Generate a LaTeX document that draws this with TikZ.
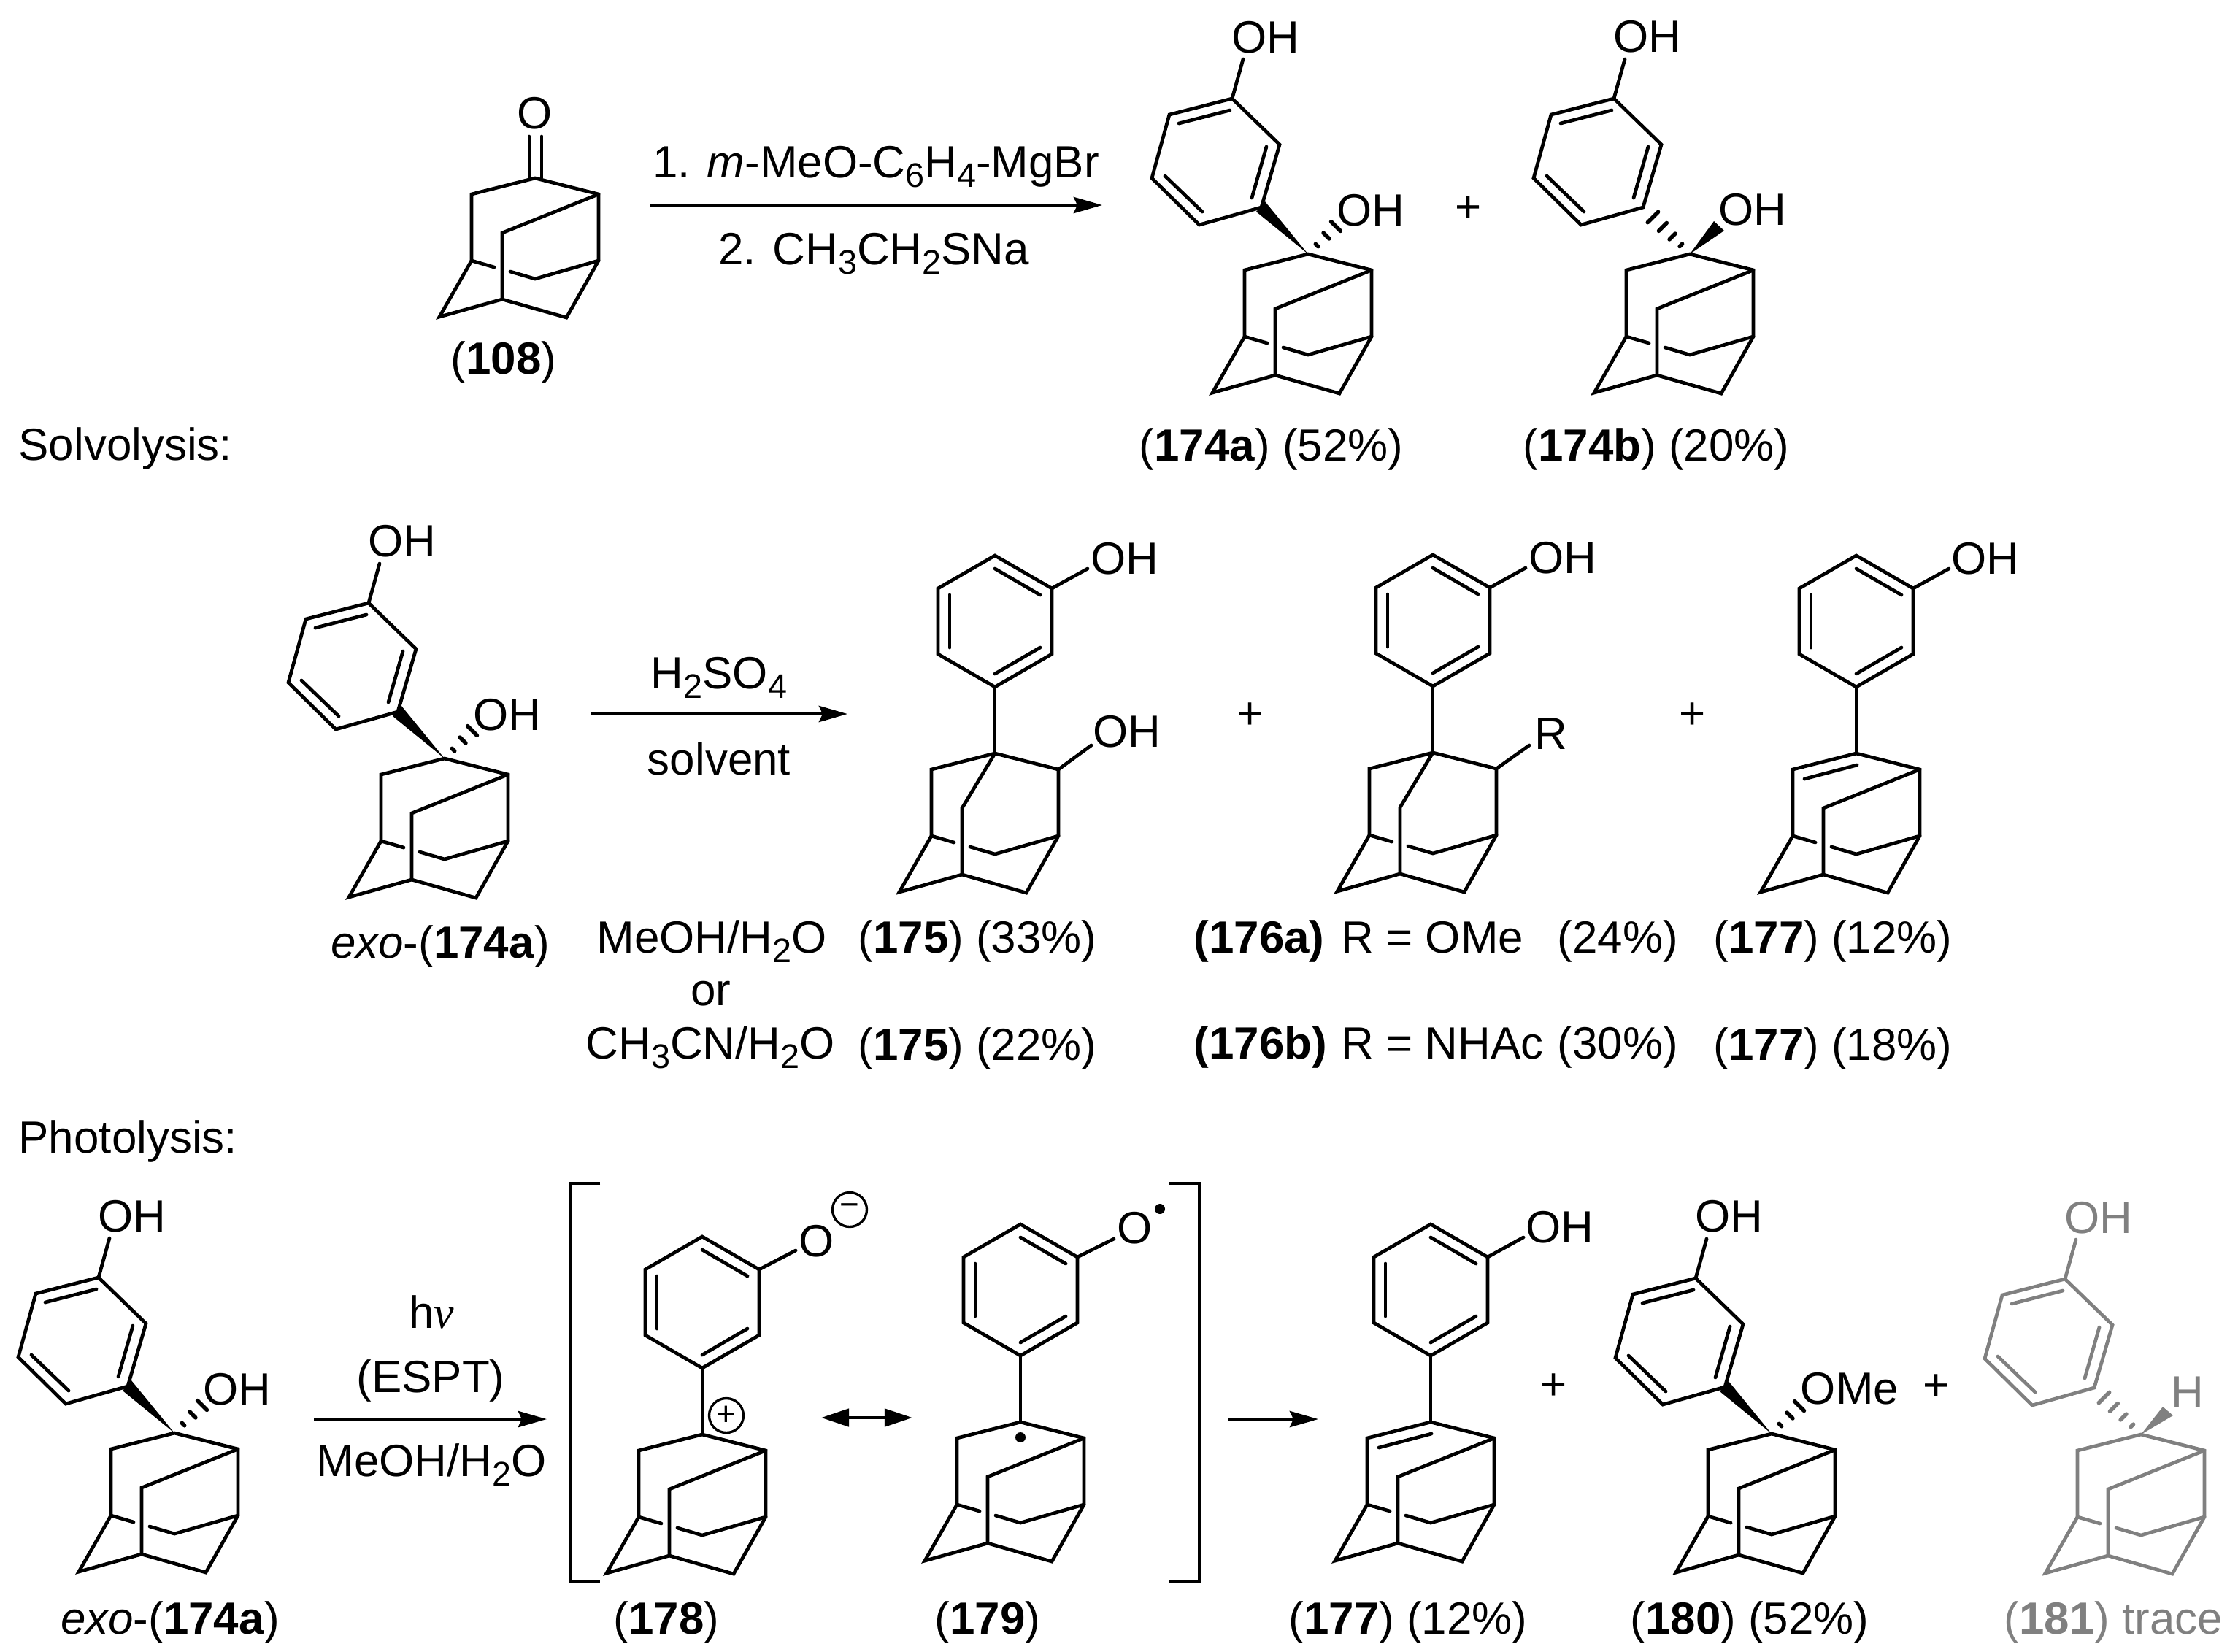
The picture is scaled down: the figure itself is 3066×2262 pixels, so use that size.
\documentclass[tikz,border=0pt]{standalone}
\usepackage{fontspec}
\setmainfont{Liberation Sans}
\newfontfamily\nufont{Liberation Serif}
\usetikzlibrary{calc, arrows.meta}

\definecolor{tracegrey}{HTML}{808080}
\newcommand{\subs}[1]{\raisebox{-3.8pt}{\fontsize{13.3}{13}\selectfont #1}}

% hashed bond: start, end, list of position/half width
\newcommand{\hashed}[3]{%
  \foreach \t/\w in {#3} {
    \draw[hash] ($(#1)!\t!(#2)!\w pt!90:(#2)$) -- ($(#1)!\t!(#2)!-\w pt!90:(#2)$);
  }%
}

\tikzset{
  bond/.style={line width=1.35pt, line cap=round, line join=miter},
  hash/.style={line width=1.55pt, line cap=round},
  rxn/.style={line width=1.35pt, -{Stealth[length=0.39cm, width=0.22cm, inset=0.05cm]}},
  reso/.style={line width=1.35pt, {Triangle[length=0.38cm, width=0.24cm]}-{Triangle[length=0.38cm, width=0.24cm]}},
  lbl/.style={font=\fontsize{17.6}{20}\selectfont, inner sep=0pt, anchor=base west},
  lblc/.style={lbl, anchor=base},
  atom/.style={font=\fontsize{17.6}{20}\selectfont, inner sep=0pt},
  charge/.style={circle, draw, line width=0.95pt, minimum size=0.47cm, inner sep=0pt, font=\fontsize{13}{13}\selectfont},
  % adamantane cage, origin at its top carbon; #1 is the vertex the rear bridge goes to
  pics/cage/.style={code={
    \coordinate (-top) at (0,0);
    \coordinate (-lt) at (-87,22);
    \coordinate (-rt) at (87,22);
    \coordinate (-rear) at (-45,75);
    \coordinate (-lm) at (-87,113);
    \coordinate (-rm) at (87,113);
    \coordinate (-bc) at (-45,166);
    \coordinate (-bl) at (-131,190);
    \coordinate (-br) at (43,191);
    \coordinate (-mid) at (0,138);
    \draw[bond] (-rm) -- (-rt) -- (-top) -- (-lt) -- (-lm) -- (-bl) -- (-bc) -- (-br) -- cycle;
    \draw[bond] (-#1) -- (-rear) -- (-bc);
    \draw[bond] (-lm) -- (-56,122);
    \draw[bond] (-34,128) -- (-mid) -- (-rm);
  }},
  % phenol ring standing on the top carbon
  pics/upring/.style={code={
    \coordinate (-ru) at (78,-226);
    \draw[bond] (0,0) -- (0,-91);
    \draw[bond] (0,-91) -- (78,-136) -- (-ru) -- (0,-271) -- (-78,-226) -- (-78,-136) -- cycle;
    \draw[bond] (62,-145) -- (0,-109);
    \draw[bond] (62,-217) -- (0,-253);
    \draw[bond] (-62,-217) -- (-62,-145);
  }},
  % tilted phenol ring beside the top carbon
  pics/tiltring/.style={code={
    \coordinate (-oh) at (-89,-267);
    \coordinate (-e) at (-64,-64);
    \draw[bond] (-oh) -- (-104,-213);
    \draw[bond] (-104,-213) -- (-190,-191) -- (-214,-104) -- (-149,-40) -- (-e) -- (-39,-150) -- cycle;
    \draw[bond] (-107,-197) -- (-177,-179);
    \draw[bond] (-77,-77) -- (-57,-147);
    \draw[bond] (-196,-107) -- (-145,-58);
  }},
}

\begin{document}
\begin{tikzpicture}[x=0.01cm, y=-0.01cm]
    \useasboundingbox (0,0) rectangle (3066,2262);

    % Ketone and first reaction
    \pic (k) at (733,244) {cage=rt};
    \node[atom] (ko) at (733,155) {O};
    \draw[bond] (725,187) -- (725,243);
    \draw[bond] (742,187) -- (742,243);
    \node[lblc] (l108) at (690,512) {(\textbf{108})};
    \coordinate (a1s) at (891,281);
    \coordinate (a1e) at (1510,281);
    \draw[rxn] (a1s) -- (a1e);
    \node[lblc] (r1) at (1200,243) {1. \textit{m}-MeO-C\subs{6}H\subs{4}-MgBr};
    \node[lblc] (r2) at (1197,362) {2. CH\subs{3}CH\subs{2}SNa};

    % Products 174a and 174b
    \pic (pa) at (1792,348) {cage=rt};
    \pic (ra) at (1792,348) {tiltring};
    \node[atom] (paoh) at (1734,51) {OH};
    \node[atom] (pas) at (1878,288) {OH};
    \fill (pa-top) -- (1721,290) -- (1733,276) -- cycle;
    \coordinate (paend) at (1832,308);
    \hashed{pa-top}{paend}{0.3/0.7, 0.625/1.6, 0.95/2.6}
    \node[lbl] (l174a) at (1560,631) {(\textbf{174a}) (52\%)};
    \node[atom] (plus1) at (2012,287) {+};

    \pic (pb) at (2315,348) {cage=rt};
    \pic (rb) at (2315,348) {tiltring};
    \node[atom] (pboh) at (2257,50) {OH};
    \node[atom] (pbs) at (2401,287) {OH};
    \fill (pb-top) -- (2348,303) -- (2362,316) -- cycle;
    \hashed{pb-top}{rb-e}{0.19/0.7, 0.375/1.6, 0.58/2.2, 0.79/2.9}
    \node[lbl] (l174b) at (2086,631) {(\textbf{174b}) (20\%)};
    \node[lbl] (lsol) at (25,630) {Solvolysis:};

    % Solvolysis row
    \pic (sa) at (609,1039) {cage=rt};
    \pic (sr) at (609,1039) {tiltring};
    \node[atom] (saoh) at (551,741) {OH};
    \node[atom] (sas) at (695,979) {OH};
    \fill (sa-top) -- (538,981) -- (550,967) -- cycle;
    \coordinate (saend) at (649,999);
    \hashed{sa-top}{saend}{0.3/0.7, 0.625/1.6, 0.95/2.6}
    \node[lblc] (lexo1) at (603,1312) {\textit{exo}-(\textbf{174a})};
    \coordinate (a2s) at (809,978);
    \coordinate (a2e) at (1161,978);
    \draw[rxn] (a2s) -- (a2e);
    \node[lblc] (h2so4) at (985,943) {H\subs{2}SO\subs{4}};
    \node[lblc] (solv) at (985,1061) {solvent};
    \node[lbl] (meoh1) at (817,1305) {MeOH/H\subs{2}O};
    \node[lblc] (lor) at (974,1377) {or};
    \node[lbl] (mecn) at (802,1450) {CH\subs{3}CN/H\subs{2}O};

    % Alcohol 175
    \pic (c175) at (1363,1032) {cage=top};
    \pic (r175) at (1363,1032) {upring};
    \draw[bond] (r175-ru) -- (1490,779);
    \node[atom] (oh175a) at (1541,765) {OH};
    \draw[bond] (c175-rt) -- (1495,1021);
    \node[atom] (oh175b) at (1544,1002) {OH};
    \node[lbl] (l175a) at (1175,1305) {(\textbf{175}) (33\%)};
    \node[lbl] (l175b) at (1175,1452) {(\textbf{175}) (22\%)};
    \node[atom] (plus2) at (1713,981) {+};

    % Ether or amide 176
    \pic (c176) at (1963,1031) {cage=top};
    \pic (r176) at (1963,1031) {upring};
    \draw[bond] (r176-ru) -- (2090,778);
    \node[atom] (oh176) at (2141,764) {OH};
    \draw[bond] (c176-rt) -- (2095,1021);
    \node[atom] (rgrp) at (2125,1005) {R};
    \node[lbl] (l176a) at (1635,1305) {\textbf{(176a)}};
    \node[lbl] (rome) at (1837,1305) {R = OMe};
    \node[lbl] (y24) at (2133,1305) {(24\%)};
    \node[lbl] (l176b) at (1635,1450) {\textbf{(176b)}};
    \node[lbl] (rnh) at (1837,1450) {R = NHAc};
    \node[lbl] (y30) at (2133,1450) {(30\%)};
    \node[atom] (plus3) at (2319,981) {+};

    % Alkene 177
    \pic (c177) at (2543,1032) {cage=rt};
    \pic (r177) at (2543,1032) {upring};
    \draw[bond] (2472,1067) -- (2544,1048);
    \draw[bond] (r177-ru) -- (2670,779);
    \node[atom] (oh177) at (2720,765) {OH};
    \node[lbl] (l177a) at (2347,1305) {(\textbf{177}) (12\%)};
    \node[lbl] (l177b) at (2347,1452) {(\textbf{177}) (18\%)};
    \node[lbl] (lpho) at (25,1579) {Photolysis:};

    % Photolysis row
    \pic (ha) at (239,1963) {cage=rt};
    \pic (hr) at (239,1963) {tiltring};
    \node[atom] (haoh) at (181,1666) {OH};
    \node[atom] (has) at (325,1903) {OH};
    \fill (ha-top) -- (168,1905) -- (180,1891) -- cycle;
    \coordinate (haend) at (279,1923);
    \hashed{ha-top}{haend}{0.3/0.7, 0.625/1.6, 0.95/2.6}
    \node[lblc] (lexo2) at (233,2238) {\textit{exo}-(\textbf{174a})};
    \coordinate (a3s) at (430,1944);
    \coordinate (a3e) at (749,1944);
    \draw[rxn] (a3s) -- (a3e);
    \node[lblc] (hnu) at (591,1819) {h{\nufont\itshape ν}};
    \node[lblc] (espt) at (590,1907) {(ESPT)};
    \node[lblc] (meoh2) at (591,2022) {MeOH/H\subs{2}O};

    % Bracketed intermediates
    \draw[bond, line cap=butt] (822,1621) -- (781,1621) -- (781,2167) -- (822,2167);
    \pic (c178) at (962,1965) {cage=rt};
    \pic (r178) at (962,1965) {upring};
    \draw[bond] (r178-ru) -- (1090,1713);
    \node[atom] (o178) at (1119,1700) {O};
    \node[charge] (minus) at (1164,1657) {−};
    \node[charge] (plus) at (995,1939) {+};
    \node[lblc] (l178) at (913,2238) {(\textbf{178})};
    \coordinate (a4s) at (1125,1942);
    \coordinate (a4e) at (1250,1942);
    \draw[reso] (a4s) -- (a4e);
    \pic (c179) at (1398,1948) {cage=rt};
    \pic (r179) at (1398,1948) {upring};
    \draw[bond] (r179-ru) -- (1526,1697);
    \node[atom] (o179) at (1555,1682) {O};
    \fill (1589,1656) circle (7);
    \fill (1398,1969) circle (7);
    \node[lblc] (l179) at (1353,2238) {(\textbf{179})};
    \draw[bond, line cap=butt] (1602,1621) -- (1643,1621) -- (1643,2167) -- (1602,2167);
    \coordinate (a5s) at (1683,1944);
    \coordinate (a5e) at (1806,1944);
    \draw[rxn] (a5s) -- (a5e);

    % Photoproducts
    \pic (c177b) at (1960,1948) {cage=rt};
    \pic (r177b) at (1960,1948) {upring};
    \draw[bond] (1889,1983) -- (1961,1964);
    \draw[bond] (r177b-ru) -- (2087,1695);
    \node[atom] (oh177b) at (2137,1681) {OH};
    \node[lbl] (l177c) at (1765,2238) {(\textbf{177}) (12\%)};
    \node[atom] (plus4) at (2129,1900) {+};

    \pic (c180) at (2427,1964) {cage=rt};
    \pic (r180) at (2427,1964) {tiltring};
    \node[atom] (oh180) at (2369,1666) {OH};
    \node[atom] (ome) at (2534,1902) {OMe};
    \fill (c180-top) -- (2356,1906) -- (2368,1892) -- cycle;
    \coordinate (e180) at (2467,1924);
    \hashed{c180-top}{e180}{0.3/0.7, 0.625/1.6, 0.95/2.6}
    \node[lbl] (l180) at (2233,2238) {(\textbf{180}) (52\%)};
    \node[atom] (plus5) at (2653,1901) {+};

    \begin{scope}[color=tracegrey]
        \pic (c181) at (2933,1965) {cage=rt};
        \pic (r181) at (2933,1965) {tiltring};
        \node[atom] (oh181) at (2875,1668) {OH};
        \node[atom] (h181) at (2997,1907) {H};
        \fill (c181-top) -- (2963,1927) -- (2977,1939) -- cycle;
        \hashed{c181-top}{r181-e}{0.19/0.7, 0.375/1.6, 0.58/2.2, 0.79/2.9}
        \node[lbl] (l181) at (2745,2238) {(\textbf{181}) trace};
    \end{scope}
\end{tikzpicture}
\end{document}
